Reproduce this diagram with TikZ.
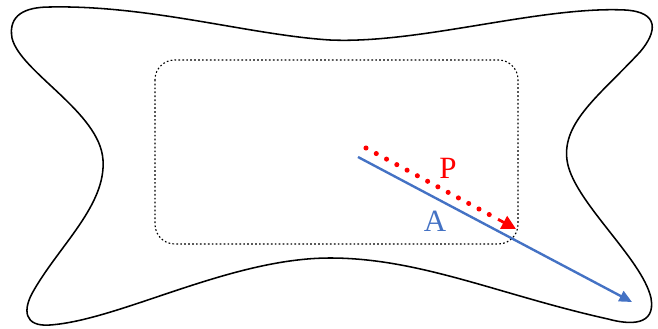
\documentclass[tikz,border=0pt]{standalone}
\usepackage{fontspec}
\setmainfont{Liberation Serif}
\usepackage{tikz}
\usetikzlibrary{arrows.meta, positioning, calc}
\usepackage{xcolor}
\definecolor{areablue}{RGB}{68, 114, 196}
\definecolor{pathred}{RGB}{255, 0, 0}

\begin{document}
\begin{tikzpicture}[x=0.025cm, y=-0.025cm]
    \useasboundingbox (0,0) rectangle (658,329);
    % outer region
    \draw[line width=1.1pt] (50,7) .. controls (150,5) and (250,35) .. (330,40)
        .. controls (420,44) and (540,6) .. (625,10)
        .. controls (660,12) and (657,32) .. (640,52)
        .. controls (600,95) and (562,122) .. (567,160)
        .. controls (572,200) and (642,258) .. (651,298)
        .. controls (656,326) and (630,325) .. (608,319)
        .. controls (500,295) and (420,258) .. (330,258)
        .. controls (230,258) and (120,320) .. (50,325)
        .. controls (24,327) and (22,310) .. (34,290)
        .. controls (60,245) and (106,205) .. (103,160)
        .. controls (100,112) and (20,72) .. (12,38)
        .. controls (8,15) and (25,7) .. (50,7) -- cycle;
    % inner region
    \draw[line width=0.8pt, dash pattern=on 1.2pt off 1.6pt, rounded corners=14pt] (155,60) rectangle (518,244);

    \coordinate (astart) at (358,157);
    \coordinate (aend) at (632,302);
    \coordinate (pstart) at (366,148);
    \coordinate (pend) at (516,229);
    \node[text=pathred, font=\fontsize{22}{24}\selectfont] (plabel) at (448,168) {P};
    \node[text=areablue, font=\fontsize{22}{24}\selectfont] (alabel) at (435,221) {A};

    \draw[-{Triangle[length=9pt, width=8pt]}, areablue, line width=1.7pt] (astart) -- (aend);
    \draw[pathred, line width=3.6pt, line cap=round, dash pattern=on 0pt off 8.3pt] (pstart) -- ($(pstart)!0.88!(pend)$);
    \draw[-{Triangle[length=10pt, width=10pt]}, pathred, line width=2pt] ($(pstart)!0.88!(pend)$) -- (pend);
\end{tikzpicture}
\end{document}
